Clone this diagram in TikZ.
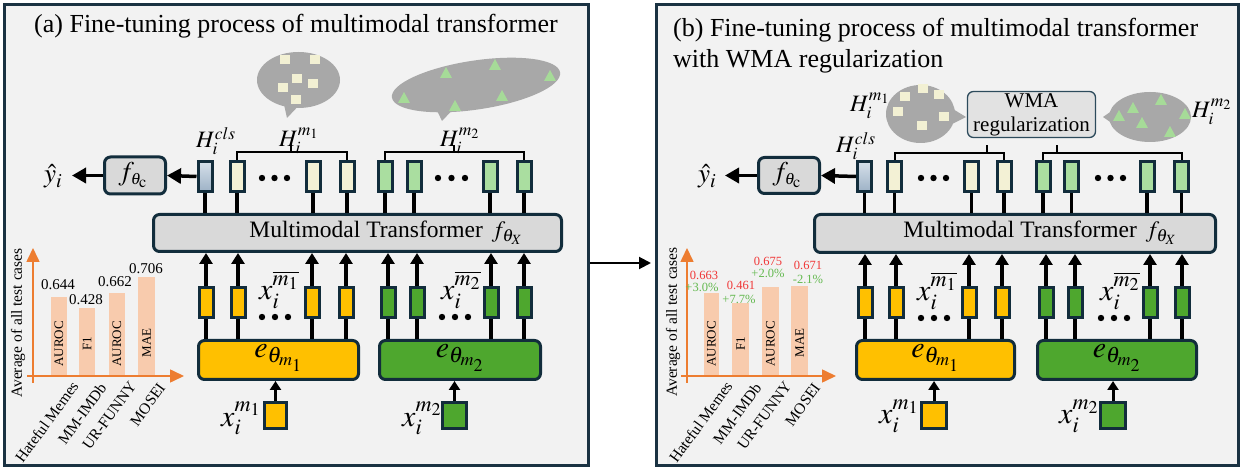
\documentclass[tikz,border=0pt]{standalone}
\usepackage{mathptmx}
\usepackage{fontspec}
\setmainfont{Liberation Serif}
\usetikzlibrary{shapes.geometric,arrows.meta,calc}
\definecolor{dk}{RGB}{18,45,60}
\definecolor{panelc}{RGB}{26,50,66}
\definecolor{bgc}{RGB}{242,242,242}
\definecolor{ylw}{RGB}{255,192,0}
\definecolor{grn}{RGB}{78,167,46}
\definecolor{ylwl}{RGB}{243,241,213}
\definecolor{grnl}{RGB}{170,222,160}
\definecolor{clsT}{RGB}{214,224,234}
\definecolor{clsB}{RGB}{157,178,198}
\definecolor{bubc}{RGB}{168,168,168}
\definecolor{sqc}{RGB}{242,240,211}
\definecolor{tric}{RGB}{166,219,152}
\definecolor{org}{RGB}{237,125,49}
\definecolor{barc}{RGB}{248,203,173}
\definecolor{boxg}{RGB}{217,217,217}
\definecolor{wmag}{RGB}{226,226,226}
\definecolor{wmab}{RGB}{45,75,92}
\definecolor{redv}{RGB}{240,55,55}
\definecolor{grv}{RGB}{100,185,80}
\newcommand\fsz[2]{\fontsize{#1}{#2}\selectfont}
\newcommand\mysq[2]{\fill[sqc] ({#1-5},{#2-4.5}) rectangle ({#1+5},{#2+4.5});}
\newcommand\mytri[2]{\fill[tric] ({#1-6},{#2+5}) -- ({#1+6},{#2+5}) -- (#1,{#2-6}) -- cycle;}
\newcommand\mydots[3]{\fill (#1,#3) circle (3.2) (#2,#3) circle (3.2) ({(#1+#2)/2},#3) circle (3.2);}
\tikzset{
  panel/.style={draw=panelc, line width=3pt, fill=bgc, inner sep=0pt},
  tok/.style={draw=dk, line width=3pt, minimum width=14pt, minimum height=30pt, inner sep=0pt},
  rbox/.style={draw=dk, line width=3pt, rounded corners=6pt, inner sep=0pt},
  conn/.style={line width=3.5pt, black},
  uparr/.style={line width=3.5pt, -{Triangle[width=13pt,length=11pt]}},
  inarr/.style={line width=3pt, -{Triangle[width=11pt,length=9pt]}},
  harr/.style={line width=3.5pt, -{Triangle[width=15pt,length=14pt]}},
  brk/.style={line width=2pt},
  bub/.style={fill=bubc},
  bubel/.style={ellipse, fill=bubc, inner sep=0pt},
  ax/.style={draw=org, line width=1.6pt, -{Triangle[width=13pt,length=14pt]}},
  barf/.style={fill=barc},
  lbl/.style={inner sep=0pt},
  catl/.style={inner sep=0pt, rotate=54, anchor=east, font=\fsz{15.5}{15.5}},
  inbar/.style={inner sep=0pt, rotate=90, font=\fsz{13}{13}},
  val/.style={inner sep=0pt, font=\fsz{15}{15}},
  valr/.style={inner sep=0pt, font=\fsz{12.5}{12.5}, text=redv},
  valg/.style={inner sep=0pt, font=\fsz{12.5}{12.5}, text=grv},
  ylab/.style={inner sep=0pt, rotate=90, font=\fsz{15.5}{15.5}},
}
\begin{document}
\begin{tikzpicture}[x=1pt,y=-1pt]
\useasboundingbox (0,0) rectangle (1243,470);
\fill[white] (0,0) rectangle (1243,470);
% panels
\node[panel, minimum width=584, minimum height=461] (PA) at (296.5,235) {};
\node[panel, minimum width=582, minimum height=461] (PB) at (947.5,235) {};
\coordinate (ay) at (0,263);
\draw[line width=2pt, -{Triangle[width=12pt,length=12pt]}, shorten >=4pt] (PA.east |- ay) -- (PB.west |- ay);

% ================= LEFT PANEL =================
\node[lbl, anchor=base west, font=\fsz{26}{26}] (titA) at (34,33) {(a) Fine-tuning process of multimodal transformer};

% bubbles
\node[bubel, minimum width=83, minimum height=56] (bA1) at (298.5,80) {};
\fill[bub] (283,100) -- (287,118) -- (304,100) -- cycle;
\mysq{285}{60}\mysq{315}{60}\mysq{297}{79}\mysq{313}{84}\mysq{283}{88}\mysq{296}{100}
\node[bubel, minimum width=170, minimum height=49, rotate=8.5] (bA2) at (476,85) {};
\fill[bub] (434,104) -- (442,121) -- (460,102) -- cycle;
\mytri{446}{73}\mytri{495}{65}\mytri{550}{76}\mytri{404}{98}\mytri{455}{106}\mytri{502}{96}

% transformer
\node[rbox, fill=boxg, minimum width=408, minimum height=37] (TA) at (357.5,233) {};
\node[lbl, font=\fsz{23.5}{23.5}] (TAt) at (386,233) {Multimodal Transformer\hspace{9pt}$f_{\theta_X}$};

% upper tokens
\node[tok, top color=clsT, bottom color=clsB] (aC) at (205,176.5) {};
\foreach \n/\x in {aY1/237,aY2/313,aY3/347} \node[tok,fill=ylwl] (\n) at (\x,176.5) {};
\foreach \n/\x in {aG1/385,aG2/414,aG3/490,aG4/524} \node[tok,fill=grnl] (\n) at (\x,176.5) {};
\foreach \n in {aC,aY1,aY2,aY3,aG1,aG2,aG3,aG4} \draw[conn] (\n.south) -- (\n.south |- TA.north);
\mydots{262}{287}{178}
\mydots{438}{465}{178}

% brackets
\coordinate (bkA1) at (291,152);
\coordinate (bkA2) at (454,152);
\draw[brk] (aY1.north) |- (bkA1) -| (aY3.north);
\draw[brk] (bkA1) -- ++(0,-7);
\draw[brk] (aG1.north) |- (bkA2) -| (aG4.north);
\draw[brk] (bkA2) -- ++(0,-7);
\node[lbl, anchor=base west, font=\fsz{23.5}{23.5}] (hAc) at (196,148) {$H_i^{cls}$};
\node[lbl, anchor=base west, font=\fsz{23.5}{23.5}] (hA1) at (279,147) {$H_i^{m_1}$};
\node[lbl, anchor=base west, font=\fsz{23.5}{23.5}] (hA2) at (440,147) {$H_i^{m_2}$};

% classifier
\node[rbox, fill=boxg, minimum width=61, minimum height=37] (fA) at (135,175.5) {};
\node[lbl, font=\fsz{27}{27}] (fAt) at (133,175) {$f_{\scriptscriptstyle\theta_{\mathrm{c}}}$};
\draw[harr] (aC.west) -- (fA.east);
\coordinate (yhA) at (72,175.5);
\draw[harr] (fA.west) -- (yhA);
\node[lbl, anchor=base west, font=\fsz{27}{27}] (yA) at (44,183) {$\hat{y}_i$};

% encoders
\node[rbox, fill=ylw, minimum width=160, minimum height=39] (EA1) at (278.5,360) {};
\node[rbox, fill=grn, minimum width=161, minimum height=39] (EA2) at (460,360) {};
\node[lbl, font=\fsz{30}{30}] at (278.5,358) {$e_{\theta_{m_1}}$};
\node[lbl, font=\fsz{30}{30}] at (460,358) {$e_{\theta_{m_2}}$};

% lower tokens
\foreach \n/\x in {aL1/206,aL2/238,aL3/312,aL4/346} \node[tok,fill=ylw] (\n) at (\x,302.5) {};
\foreach \n/\x in {aL5/388,aL6/417,aL7/491,aL8/524} \node[tok,fill=grn] (\n) at (\x,302.5) {};
\foreach \n in {aL1,aL2,aL3,aL4,aL5,aL6,aL7,aL8} {
  \draw[uparr] (\n.north) -- (\n.north |- TA.south);
}
\foreach \n in {aL1,aL2,aL3,aL4} \draw[conn] (\n.south |- EA1.north) -- (\n.south);
\foreach \n in {aL5,aL6,aL7,aL8} \draw[conn] (\n.south |- EA2.north) -- (\n.south);
\mydots{262}{288}{317}
\mydots{442}{468}{317}
\node[lbl, anchor=base west, font=\fsz{30}{30}] at (259,300) {$x_i^{\overline{m_1}}$};
\node[lbl, anchor=base west, font=\fsz{30}{30}] at (441,300) {$x_i^{\overline{m_2}}$};

% inputs
\node[tok, fill=ylw, minimum width=22, minimum height=26] (IA1) at (275.5,415.5) {};
\node[tok, fill=grn, minimum width=24, minimum height=26] (IA2) at (454.5,415.5) {};
\draw[inarr] (IA1.north) -- (IA1.north |- EA1.south);
\draw[inarr] (IA2.north) -- (IA2.north |- EA2.south);
\node[lbl, anchor=base west, font=\fsz{30}{30}] at (221,426) {$x_i^{m_1}$};
\node[lbl, anchor=base west, font=\fsz{30}{30}] at (402,426) {$x_i^{m_2}$};

% chart left
\fill[barf] (51,297) rectangle (67,376);
\fill[barf] (79,308) rectangle (95,376);
\fill[barf] (109,293) rectangle (125,376);
\fill[barf] (138,277) rectangle (155,376);
\coordinate (oA) at (33,383);
\coordinate (ytA) at (33,248);
\coordinate (x0A) at (27,376);
\coordinate (xtA) at (184,376);
\draw[ax] (oA) -- (ytA);
\draw[ax] (x0A) -- (xtA);
\node[ylab] at (18,323) {Average of all test cases};
\node[inbar] at (59,344) {AUROC};
\node[inbar] at (87,344) {F1};
\node[inbar] at (117,344) {AUROC};
\node[inbar] at (146.5,343) {MAE};
\node[val] at (58,285) {0.644};
\node[val] at (86,300) {0.428};
\node[val] at (115,282) {0.662};
\node[val] at (146,269) {0.706};
\node[catl] at (75,383) {Hateful Memes};
\node[catl] at (103,385) {MM-IMDb};
\node[catl] at (133,383) {UR-FUNNY};
\node[catl] at (162,385) {MOSEI};

% ================= RIGHT PANEL =================
\node[lbl, anchor=base west, align=left, font=\fsz{26}{31}] (titB) at (673,68) {(b) Fine-tuning process of multimodal transformer\\with WMA regularization};

% bubbles and WMA
\node[bubel, minimum width=69, minimum height=58] (bB1) at (920.5,114) {};
\fill[bub] (948,106) -- (966,117) -- (948,126) -- cycle;
\mysq{905}{97}\mysq{923}{89}\mysq{939}{95}\mysq{898}{112}\mysq{944}{117}\mysq{922}{126}
\node[bubel, minimum width=82, minimum height=50] (bB2) at (1150,117) {};
\fill[bub] (1116,108) -- (1103,117) -- (1116,126) -- cycle;
\mytri{1161}{100}\mytri{1133}{108}\mytri{1185}{114}\mytri{1119}{116}\mytri{1142}{123}\mytri{1170}{132}
\node[draw=wmab, line width=1.3pt, fill=wmag, rounded corners=6pt, minimum width=128, minimum height=46, inner sep=0pt, align=center, font=\fsz{21}{24}] (WMA) at (1031.5,114.5) {WMA\\regularization};
\node[lbl, anchor=base west, font=\fsz{23.5}{23.5}] (hB1) at (850,112) {$H_i^{m_1}$};
\node[lbl, anchor=base west, font=\fsz{23.5}{23.5}] (hB2) at (1192,118) {$H_i^{m_2}$};

% transformer
\node[rbox, fill=boxg, minimum width=401, minimum height=38] (TB) at (1015,233.5) {};
\node[lbl, font=\fsz{23.5}{23.5}] (TBt) at (1040,233) {Multimodal Transformer\hspace{9pt}$f_{\theta_X}$};

% upper tokens
\node[tok, top color=clsT, bottom color=clsB] (bC) at (864.5,176.5) {};
\foreach \n/\x in {bY1/894.5,bY2/971.5,bY3/1004} \node[tok,fill=ylwl] (\n) at (\x,176.5) {};
\foreach \n/\x in {bG1/1043,bG2/1071.5,bG3/1147,bG4/1181.5} \node[tok,fill=grnl] (\n) at (\x,176.5) {};
\foreach \n in {bC,bY1,bY2,bY3,bG1,bG2,bG3,bG4} \draw[conn] (\n.south) -- (\n.south |- TB.north);
\mydots{921}{946}{178}
\mydots{1098}{1123}{178}

\coordinate (bkB1) at (987,153);
\coordinate (bkB2) at (1057,153);
\draw[brk] (bY1.north) |- (bkB1) -| (bY3.north);
\draw[brk] (bkB1) -- ++(0,-8);
\draw[brk] (bG1.north) |- (bkB2) -| (bG4.north);
\draw[brk] (bkB2) -- ++(0,-8);
\node[lbl, anchor=base west, font=\fsz{23.5}{23.5}] (hBc) at (836,153) {$H_i^{cls}$};

% classifier
\node[rbox, fill=boxg, minimum width=61, minimum height=36] (fB) at (789,175.5) {};
\node[lbl, font=\fsz{27}{27}] (fBt) at (787,175) {$f_{\scriptscriptstyle\theta_{\mathrm{c}}}$};
\draw[harr] (bC.west) -- (fB.east);
\coordinate (yhB) at (725,175.5);
\draw[harr] (fB.west) -- (yhB);
\node[lbl, anchor=base west, font=\fsz{27}{27}] (yB) at (698,183) {$\hat{y}_i$};

% encoders
\node[rbox, fill=ylw, minimum width=158, minimum height=39] (EB1) at (935.5,360) {};
\node[rbox, fill=grn, minimum width=159, minimum height=39] (EB2) at (1117,360) {};
\node[lbl, font=\fsz{30}{30}] at (935.5,358) {$e_{\theta_{m_1}}$};
\node[lbl, font=\fsz{30}{30}] at (1117,358) {$e_{\theta_{m_2}}$};

% lower tokens
\foreach \n/\x in {bL1/865,bL2/896,bL3/969,bL4/1002} \node[tok,fill=ylw] (\n) at (\x,302.5) {};
\foreach \n/\x in {bL5/1046,bL6/1075,bL7/1150,bL8/1182} \node[tok,fill=grn] (\n) at (\x,302.5) {};
\foreach \n in {bL1,bL2,bL3,bL4,bL5,bL6,bL7,bL8} {
  \draw[uparr] (\n.north) -- (\n.north |- TB.south);
}
\foreach \n in {bL1,bL2,bL3,bL4} \draw[conn] (\n.south |- EB1.north) -- (\n.south);
\foreach \n in {bL5,bL6,bL7,bL8} \draw[conn] (\n.south |- EB2.north) -- (\n.south);
\mydots{921}{947}{318}
\mydots{1101}{1127}{318}
\node[lbl, anchor=base west, font=\fsz{30}{30}] at (917,301) {$x_i^{\overline{m_1}}$};
\node[lbl, anchor=base west, font=\fsz{30}{30}] at (1100,301) {$x_i^{\overline{m_2}}$};

% inputs
\node[tok, fill=ylw, minimum width=25, minimum height=26] (IB1) at (934,415.5) {};
\node[tok, fill=grn, minimum width=25, minimum height=26] (IB2) at (1113,415.5) {};
\draw[inarr] (IB1.north) -- (IB1.north |- EB1.south);
\draw[inarr] (IB2.north) -- (IB2.north |- EB2.south);
\node[lbl, anchor=base west, font=\fsz{30}{30}] at (879,424) {$x_i^{m_1}$};
\node[lbl, anchor=base west, font=\fsz{30}{30}] at (1059,424) {$x_i^{m_2}$};

% chart right
\fill[barf] (704,293) rectangle (719,376);
\fill[barf] (732,303) rectangle (749,376);
\fill[barf] (762,287) rectangle (779,376);
\fill[barf] (791,286) rectangle (808,376);
\coordinate (oB) at (687,383);
\coordinate (ytB) at (687,248);
\coordinate (x0B) at (681,376);
\coordinate (xtB) at (836,376);
\draw[ax] (oB) -- (ytB);
\draw[ax] (x0B) -- (xtB);
\node[ylab] at (673,322) {Average of all test cases};
\node[inbar] at (711.5,344) {AUROC};
\node[inbar] at (740.5,344) {F1};
\node[inbar] at (770.5,344) {AUROC};
\node[inbar] at (799.5,343) {MAE};
\node[valr] at (704,275) {0.663};
\node[valg] at (702,287) {+3.0\%};
\node[valr] at (741,285) {0.461};
\node[valg] at (739,299) {+7.7\%};
\node[valr] at (768,261) {0.675};
\node[valg] at (768,273) {+2.0\%};
\node[valr] at (808,265) {0.671};
\node[valg] at (808,279) {-2.1\%};
\node[catl] at (729,383) {Hateful Memes};
\node[catl] at (758,385) {MM-IMDb};
\node[catl] at (788,383) {UR-FUNNY};
\node[catl] at (817,385) {MOSEI};
\end{tikzpicture}
\end{document}
